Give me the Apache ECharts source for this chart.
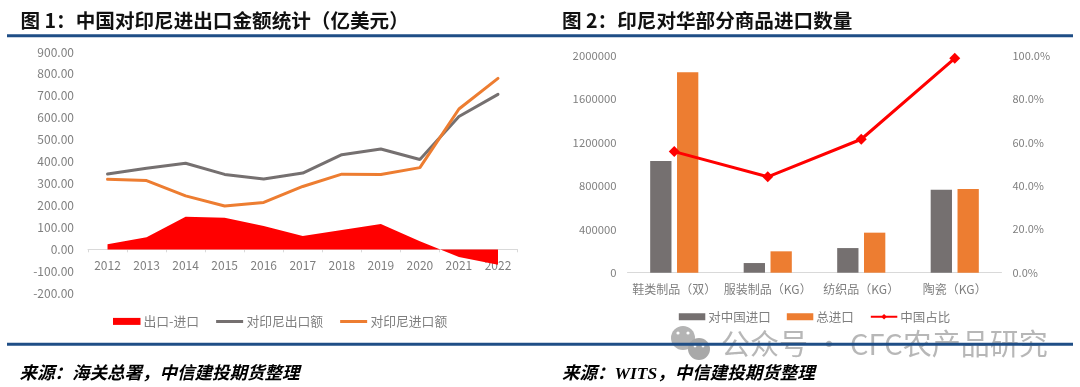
<!DOCTYPE html>
<html><head><meta charset="utf-8">
<style>html,body{margin:0;padding:0;background:#fff}#c{width:1080px;height:387px}</style>
<script src="https://cdn.jsdelivr.net/npm/echarts@6/dist/echarts.min.js"></script>
</head><body><div id="c"></div>
<script>
const years = ['2012','2013','2014','2015','2016','2017','2018','2019','2020','2021','2022'];
const balance = [24,56,149,144,107,61,89,116,37,-34,-70];
const exportsToIndonesia = [344,370,393,342,321,348,432,458,410,606,707];
const importsFromIndonesia = [320,314,244,198,214,287,343,342,373,640,780];
const goods = ['鞋类制品（双）','服装制品（KG）','纺织品（KG）','陶瓷（KG）'];
const fromChina = [1029000,89000,227000,765000];
const totalImports = [1847000,197000,369000,771000];
const chinaShare = [55.8,44.2,61.5,98.8];

const FONT = '"Noto Sans CJK SC","Open Sans",sans-serif';
const GREY = '#7f7f7f';
const DARK = '#757070';
const ORANGE = '#ed7d31';
const RED = '#ff0000';
const RULE = '#1f4e86';
const labelStyle = {color:GREY,fontSize:12,fontFamily:FONT};
const chart = echarts.init(document.getElementById('c'),null,{renderer:'canvas'});
const LINE_ICON = 'path://M0,0 L27,0 L27,0 Z M0,2 L27,2 L27,5 L0,5 Z M0,7 L27,7 L27,7 Z';

function txt(x,y,t,o){return {type:'text',x:x,y:y,silent:true,z:60,style:Object.assign({text:t,fontFamily:FONT,fill:'#111',textVerticalAlign:'middle'},o)};}
function rule(x1,x2,y){return {type:'rect',silent:true,z:70,shape:{x:x1,y:y,width:x2-x1,height:3},style:{fill:RULE}};}
function dot(cx,cy,r,fill,z){return {type:'circle',silent:true,z:z,shape:{cx:cx,cy:cy,r:r},style:{fill:fill}};}
const titleS = {fontSize:19.6,fontWeight:'bold'};
const srcS = {fontSize:17.5,fontWeight:'bold',fontStyle:'italic',fontFamily:'"Liberation Serif","Noto Sans CJK SC",serif',fill:'#000'};

chart.setOption({
  animation:false,
  backgroundColor:'#fff',
  textStyle:{fontFamily:FONT},
  grid:[
    {left:88,width:429.5,top:52,height:241.3},
    {left:627.5,width:374,top:55.7,height:217}
  ],
  xAxis:[
    {type:'category',gridIndex:0,data:years,offset:-44,
      axisLine:{onZero:false,lineStyle:{color:'#d9d9d9',width:1}},
      axisTick:{show:true,length:3,lineStyle:{color:'#d9d9d9'}},
      axisLabel:Object.assign({},labelStyle,{margin:10,interval:0}),splitLine:{show:false}},
    {type:'category',gridIndex:1,data:goods,
      axisLine:{lineStyle:{color:'#d9d9d9',width:1}},
      axisTick:{show:false},
      axisLabel:Object.assign({},labelStyle,{margin:11,interval:0}),splitLine:{show:false}}
  ],
  yAxis:[
    {type:'value',gridIndex:0,min:-200,max:900,interval:100,
      axisLine:{show:false},axisTick:{show:false},splitLine:{show:false},
      axisLabel:Object.assign({},labelStyle,{margin:14,formatter:v=>v.toFixed(2)})},
    {type:'value',gridIndex:1,min:0,max:2000000,interval:400000,
      axisLine:{show:false},axisTick:{show:false},splitLine:{show:false},
      axisLabel:Object.assign({},labelStyle,{fontSize:11.3,margin:11,formatter:v=>String(v)})},
    {type:'value',gridIndex:1,position:'right',min:0,max:100,interval:20,
      axisLine:{show:false},axisTick:{show:false},splitLine:{show:false},
      axisLabel:Object.assign({},labelStyle,{fontSize:11,margin:11,formatter:v=>v.toFixed(1)+'%'})}
  ],
  legend:[
    {left:108,top:310,itemGap:17,itemWidth:27.5,itemHeight:7,
      textStyle:Object.assign({},labelStyle,{fontSize:12.8,padding:[0,0,0,-2]}),
      data:[{name:'出口-进口',icon:'rect'},{name:'对印尼出口额',icon:LINE_ICON},{name:'对印尼进口额',icon:LINE_ICON}]},
    {left:673.8,top:305.5,itemGap:16,itemWidth:26.5,itemHeight:7,
      textStyle:Object.assign({},labelStyle,{fontSize:12.5,padding:[0,0,0,-2]}),
      data:[{name:'对中国进口',icon:'rect'},{name:'总进口',icon:'rect'},{name:'中国占比'}]}
  ],
  series:[
    {name:'出口-进口',type:'line',xAxisIndex:0,yAxisIndex:0,data:balance,symbol:'none',
      lineStyle:{width:0,color:RED},itemStyle:{color:RED},areaStyle:{color:RED,opacity:1}},
    {name:'对印尼出口额',type:'line',xAxisIndex:0,yAxisIndex:0,data:exportsToIndonesia,symbol:'none',
      lineStyle:{width:3,color:DARK,cap:'round'},itemStyle:{color:DARK}},
    {name:'对印尼进口额',type:'line',xAxisIndex:0,yAxisIndex:0,data:importsFromIndonesia,symbol:'none',
      lineStyle:{width:3,color:ORANGE,cap:'round'},itemStyle:{color:ORANGE}},
    {name:'对中国进口',type:'bar',xAxisIndex:1,yAxisIndex:1,data:fromChina,barWidth:21.3,barGap:'26%',
      itemStyle:{color:DARK}},
    {name:'总进口',type:'bar',xAxisIndex:1,yAxisIndex:1,data:totalImports,barWidth:21.3,barGap:'26%',
      itemStyle:{color:ORANGE}},
    {name:'中国占比',type:'line',xAxisIndex:1,yAxisIndex:2,data:chinaShare,symbol:'diamond',symbolSize:11,
      lineStyle:{width:3,color:RED},itemStyle:{color:RED}}
  ],
  graphic:[
    txt(20.5,21,'图 1：中国对印尼进出口金额统计（亿美元）',titleS),
    txt(562,21,'图 2：印尼对华部分商品进口数量',titleS),
    rule(7,540,34.2),rule(540,1073,34.2),
    rule(7,540,342.8),rule(540,1073,342.8),
    txt(19.5,374,'来源：海关总署，中信建投期货整理',srcS),
    txt(562,374,'来源：WITS，中信建投期货整理',srcS),
    dot(683,338,12,'#b4b4b4',50),
    dot(699,349,11,'#a8a8a8',51),
    dot(678,333,1.6,'#ffffff',52),dot(688,333,1.6,'#ffffff',52),
    dot(695,346,1.4,'#ffffff',52),dot(703,346,1.4,'#ffffff',52),
    txt(721,344,'公众号 · CFC农产品研究',{fontSize:29,fill:'rgba(165,165,165,0.8)',fontFamily:'"Noto Sans CJK SC",sans-serif',z:53})
  ]
});
</script></body></html>
